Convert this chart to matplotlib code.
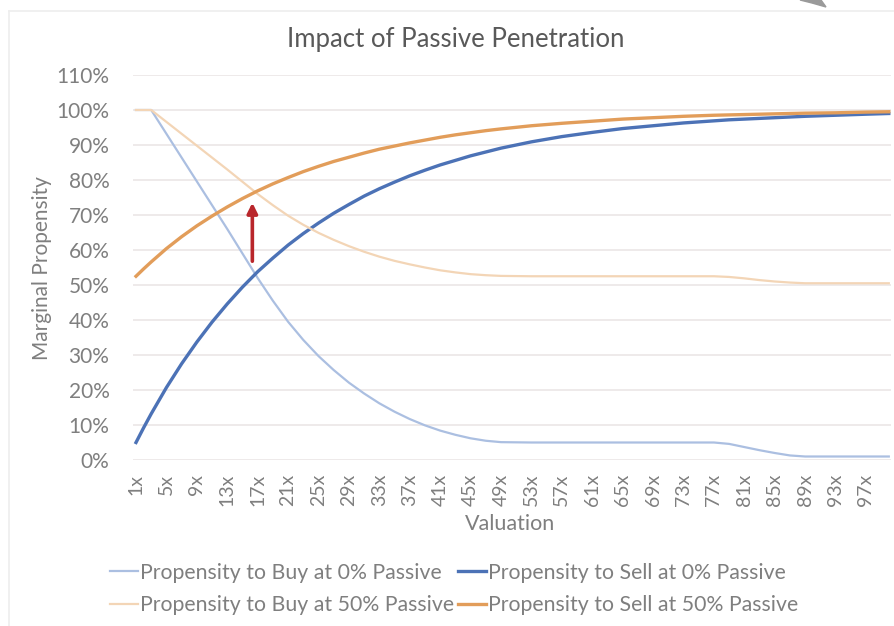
import matplotlib.pyplot as plt
from matplotlib.lines import Line2D
from matplotlib.patches import Polygon

plt.rcParams['font.family'] = ['Lato', 'DejaVu Sans']

# valuation multiple (x) at which each curve was sampled
valuation = [1, 2, 3, 5, 7, 9, 11, 13, 15, 17, 19, 21, 23, 25, 27, 29, 31, 33,
             35, 37, 39, 41, 43, 45, 47, 49, 53, 57, 61, 65, 69, 73, 77, 79,
             81, 83, 85, 87, 89, 93, 97, 100]

buy_0 = [100, 100, 100, 93.2, 86.4, 79.6, 72.8, 66, 59, 52, 45.5, 39.5,
         34.3, 29.7, 25.7, 22.1, 19, 16.2, 13.8, 11.7, 9.9, 8.4, 7.2, 6.2,
         5.5, 5.1, 5, 5, 5, 5, 5, 5, 5, 4.6, 3.7, 2.8, 2, 1.3, 1, 1, 1, 1]
sell_0 = [5, 9.2, 13.2, 20.7, 27.5, 33.7, 39.4, 44.6, 49.4, 53.8, 57.7, 61.4,
          64.7, 67.7, 70.5, 73, 75.4, 77.5, 79.4, 81.2, 82.8, 84.3, 85.6,
          86.9, 88, 89.1, 90.9, 92.4, 93.6, 94.7, 95.5, 96.3, 96.9, 97.2,
          97.4, 97.6, 97.8, 98, 98.2, 98.5, 98.8, 99]
buy_50 = [100, 100, 100, 96.6, 93.2, 89.8, 86.4, 83, 79.5, 76, 72.8, 69.8,
          67.2, 64.9, 62.9, 61.1, 59.5, 58.1, 56.9, 55.9, 55, 54.2, 53.6,
          53.1, 52.8, 52.6, 52.5, 52.5, 52.5, 52.5, 52.5, 52.5, 52.5, 52.3,
          51.9, 51.4, 51, 50.7, 50.5, 50.5, 50.5, 50.5]
sell_50 = [52.5, 54.6, 56.6, 60.4, 63.8, 66.9, 69.7, 72.3, 74.7, 76.9, 78.9,
           80.7, 82.4, 83.9, 85.3, 86.5, 87.7, 88.8, 89.7, 90.6, 91.4, 92.2,
           92.9, 93.5, 94.1, 94.6, 95.5, 96.2, 96.8, 97.4, 97.8, 98.2, 98.5,
           98.6, 98.7, 98.8, 98.9, 99, 99.1, 99.2, 99.4, 99.5]

tick_vals = list(range(1, 100, 4))
tick_labels = [f"{v}x" for v in tick_vals]
y_ticks = list(range(0, 111, 10))

W, H = 894, 626
fig = plt.figure(figsize=(W / 100, H / 100), dpi=100)
ax = fig.add_axes([133 / W, 1 - 460 / H, 758 / W, 385 / H])

grey = '#7f7f7f'
l_buy0, = ax.plot(valuation, buy_0, color='#abbfe1', lw=1.6,
                  label='Propensity to Buy at 0% Passive')
l_sell0, = ax.plot(valuation, sell_0, color='#4c72b6', lw=2.4,
                   label='Propensity to Sell at 0% Passive')
l_buy50, = ax.plot(valuation, buy_50, color='#f3d5b6', lw=1.6,
                   label='Propensity to Buy at 50% Passive')
l_sell50, = ax.plot(valuation, sell_50, color='#e29d5a', lw=2.4,
                    label='Propensity to Sell at 50% Passive')

# red arrow showing the lift in selling propensity
ax.annotate('', xy=(16.3, 74.3), xytext=(16.3, 56),
            arrowprops=dict(arrowstyle='-|>,head_width=0.3,head_length=0.6',
                            color='#b9262b', lw=2.6))

ax.set_xlim(1 - 3 / 7.604, 1 + (891 - 136) / 7.604)
ax.set_ylim(0, 110)
ax.set_xticks(tick_vals)
ax.set_xticklabels(tick_labels, rotation=90, fontsize=14, color=grey)
ax.set_yticks(y_ticks)
ax.set_yticklabels([f"{v}%" for v in y_ticks], fontsize=15, color=grey)
ax.tick_params(axis='y', length=0, pad=17)
ax.tick_params(axis='x', length=0, pad=10)
ax.grid(axis='y', color='#ebe6e6', lw=1.2)
ax.set_axisbelow(True)
for s in ax.spines.values():
    s.set_visible(False)

fig.text(510 / W, 1 - 524 / H, 'Valuation', ha='center', va='center',
         fontsize=15.5, color=grey)
fig.text(42 / W, 1 - 268 / H, 'Marginal Propensity', ha='center',
         va='center', rotation=90, fontsize=15, color=grey)
fig.text(456 / W, 1 - 40 / H, 'Impact of Passive Penetration',
         ha='center', va='center', fontsize=18.5, color='#595959')

fig.legend(handles=[l_buy0, l_buy50, l_sell0, l_sell50], ncol=2,
           loc='center', bbox_to_anchor=(454 / W, 1 - 589 / H),
           frameon=False, fontsize=15.3, labelcolor=grey,
           handlelength=1.3, handletextpad=0.1, columnspacing=0.2,
           labelspacing=0.6)

# chart frame and the stray pointer in the corner
fig.add_artist(Line2D([9 / W, 9 / W], [0, 1 - 11 / H], color='#eeeeee', lw=1.2))
fig.add_artist(Line2D([9 / W, 1], [1 - 11 / H, 1 - 11 / H], color='#eeeeee', lw=1.2))
fig.add_artist(Polygon([(800 / W, 1), (821 / W, 1), (826 / W, 1 - 7 / H),
                        (812 / W, 1 - 3 / H)], closed=True,
                       color='#9a9a9a', transform=fig.transFigure))

fig.savefig('out.png', dpi=100)
